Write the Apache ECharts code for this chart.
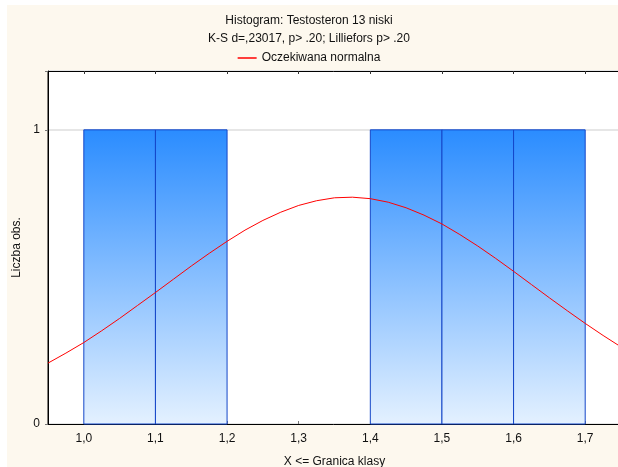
<!DOCTYPE html>
<html>
<head>
<meta charset="utf-8">
<script src="https://cdn.jsdelivr.net/npm/echarts@6/dist/echarts.min.js"></script>
<style>
  html, body { margin: 0; padding: 0; background: #ffffff; overflow: hidden; }
  #chart { width: 618px; height: 467px; }
</style>
</head>
<body>
<div id="chart"></div>
<script>
// Histogram class boundaries (upper limits) and observed counts per class
const binStarts = [1.0, 1.1, 1.2, 1.3, 1.4, 1.5, 1.6];
const binWidth = 0.1;
const counts = [1, 1, 0, 0, 1, 1, 1];

// Tick labels on the class axis
const xTicks = [1.0, 1.1, 1.2, 1.3, 1.4, 1.5, 1.6, 1.7];

// Expected normal curve, sampled along the class axis
const curveX = [0.95, 0.975, 1.0, 1.025, 1.05, 1.075, 1.1, 1.125, 1.15, 1.175, 1.2, 1.225, 1.25, 1.275, 1.3, 1.325, 1.35,
  1.375, 1.4, 1.425, 1.45, 1.475, 1.5, 1.525, 1.55, 1.575, 1.6, 1.625, 1.65, 1.675, 1.7, 1.725, 1.75];
const curveY = [0.207, 0.241, 0.277, 0.317, 0.359, 0.403, 0.447, 0.492, 0.537, 0.580, 0.621, 0.659, 0.692, 0.720, 0.743, 0.759, 0.769,
  0.771, 0.766, 0.754, 0.735, 0.710, 0.680, 0.644, 0.605, 0.563, 0.519, 0.474, 0.429, 0.385, 0.342, 0.301, 0.262];

const titleText = 'Histogram: Testosteron 13 niski';
const subText = 'K-S d=,23017, p> .20; Lilliefors p> .20';
const legendName = 'Oczekiwana normalna';

const FONT = '"Liberation Sans", Arial, sans-serif';

const barData = binStarts.map((s, i) => [s, s + binWidth, counts[i]]).filter(d => d[2] > 0);
const curveData = curveX.map((x, i) => [x, curveY[i]]);

const chart = echarts.init(document.getElementById('chart'), null, { renderer: 'canvas' });

chart.setOption({
  backgroundColor: '#ffffff',
  animation: false,
  textStyle: { fontFamily: FONT },
  graphic: [{
    type: 'rect',
    z: -10,
    silent: true,
    shape: { x: 7, y: 5, width: 620, height: 470 },
    style: { fill: '#fdf8ee' }
  }],
  title: [{
    text: titleText,
    left: 'center',
    top: 10,
    textStyle: { fontSize: 12, fontWeight: 'normal', color: '#111', fontFamily: FONT }
  }, {
    text: subText,
    left: 'center',
    top: 28,
    textStyle: { fontSize: 12, fontWeight: 'normal', color: '#111', fontFamily: FONT }
  }],
  legend: {
    top: 47,
    left: 'center',
    icon: 'rect',
    itemWidth: 19,
    itemHeight: 1.5,
    itemGap: 6,
    textStyle: { fontSize: 12, color: '#111', fontFamily: FONT },
    data: [{ name: legendName }]
  },
  grid: {
    left: 48,
    top: 71,
    width: 573,
    height: 353,
    outerBoundsMode: 'none',
    containLabel: false,
    show: true,
    backgroundColor: '#ffffff',
    borderColor: '#000000',
    borderWidth: 1
  },
  xAxis: [{
    type: 'value',
    min: 0.95,
    max: 1.75,
    name: 'X <= Granica klasy',
    nameLocation: 'middle',
    nameGap: 32,
    nameTextStyle: { fontSize: 12, color: '#111', fontFamily: FONT },
    axisLine: { show: true, lineStyle: { color: '#000', width: 1 } },
    axisTick: { show: true, inside: true, length: 3, customValues: xTicks, lineStyle: { color: '#777' } },
    axisLabel: {
      customValues: xTicks,
      margin: 9,
      fontSize: 12,
      color: '#111',
      formatter: v => v.toFixed(1).replace('.', ',')
    },
    splitLine: { show: false }
  }, {
    type: 'value',
    position: 'top',
    min: 0.95,
    max: 1.75,
    axisLine: { show: true, lineStyle: { color: '#000', width: 1 } },
    axisTick: { show: true, inside: true, length: 3, customValues: xTicks, lineStyle: { color: '#333' } },
    axisLabel: { show: false },
    splitLine: { show: false }
  }],
  yAxis: {
    type: 'value',
    min: 0,
    max: 1.2,
    interval: 1,
    name: 'Liczba obs.',
    nameLocation: 'middle',
    nameGap: 23,
    nameTextStyle: { fontSize: 12, color: '#111', fontFamily: FONT },
    axisLine: { show: true, lineStyle: { color: '#000', width: 1 } },
    axisTick: { show: true, length: 3, lineStyle: { color: '#777' } },
    axisLabel: {
      margin: 8,
      fontSize: 12,
      color: '#111',
      formatter: v => (v === 0 || v === 1) ? String(v) : ''
    },
    splitLine: { show: true, lineStyle: { color: '#e6e6e6', width: 2 } }
  },
  series: [{
    type: 'custom',
    name: 'Liczba obs.',
    xAxisIndex: 0,
    yAxisIndex: 0,
    data: barData,
    encode: { x: [0, 1], y: 2 },
    renderItem: function (params, api) {
      const p0 = api.coord([api.value(0), api.value(2)]);
      const p1 = api.coord([api.value(1), 0]);
      return {
        type: 'rect',
        shape: { x: p0[0], y: p0[1], width: p1[0] - p0[0], height: p1[1] - p0[1] },
        style: {
          fill: {
            type: 'linear', x: 0, y: 0, x2: 0, y2: 1,
            colorStops: [
              { offset: 0, color: '#2a8cff' },
              { offset: 1, color: '#e4f1ff' }
            ]
          },
          stroke: '#1446c8',
          lineWidth: 1
        }
      };
    },
    z: 2
  }, {
    type: 'line',
    name: legendName,
    xAxisIndex: 0,
    yAxisIndex: 0,
    data: curveData,
    smooth: false,
    symbol: 'none',
    lineStyle: { color: '#ff0000', width: 1 },
    itemStyle: { color: '#ff0000' },
    z: 3
  }]
});
</script>
</body>
</html>
